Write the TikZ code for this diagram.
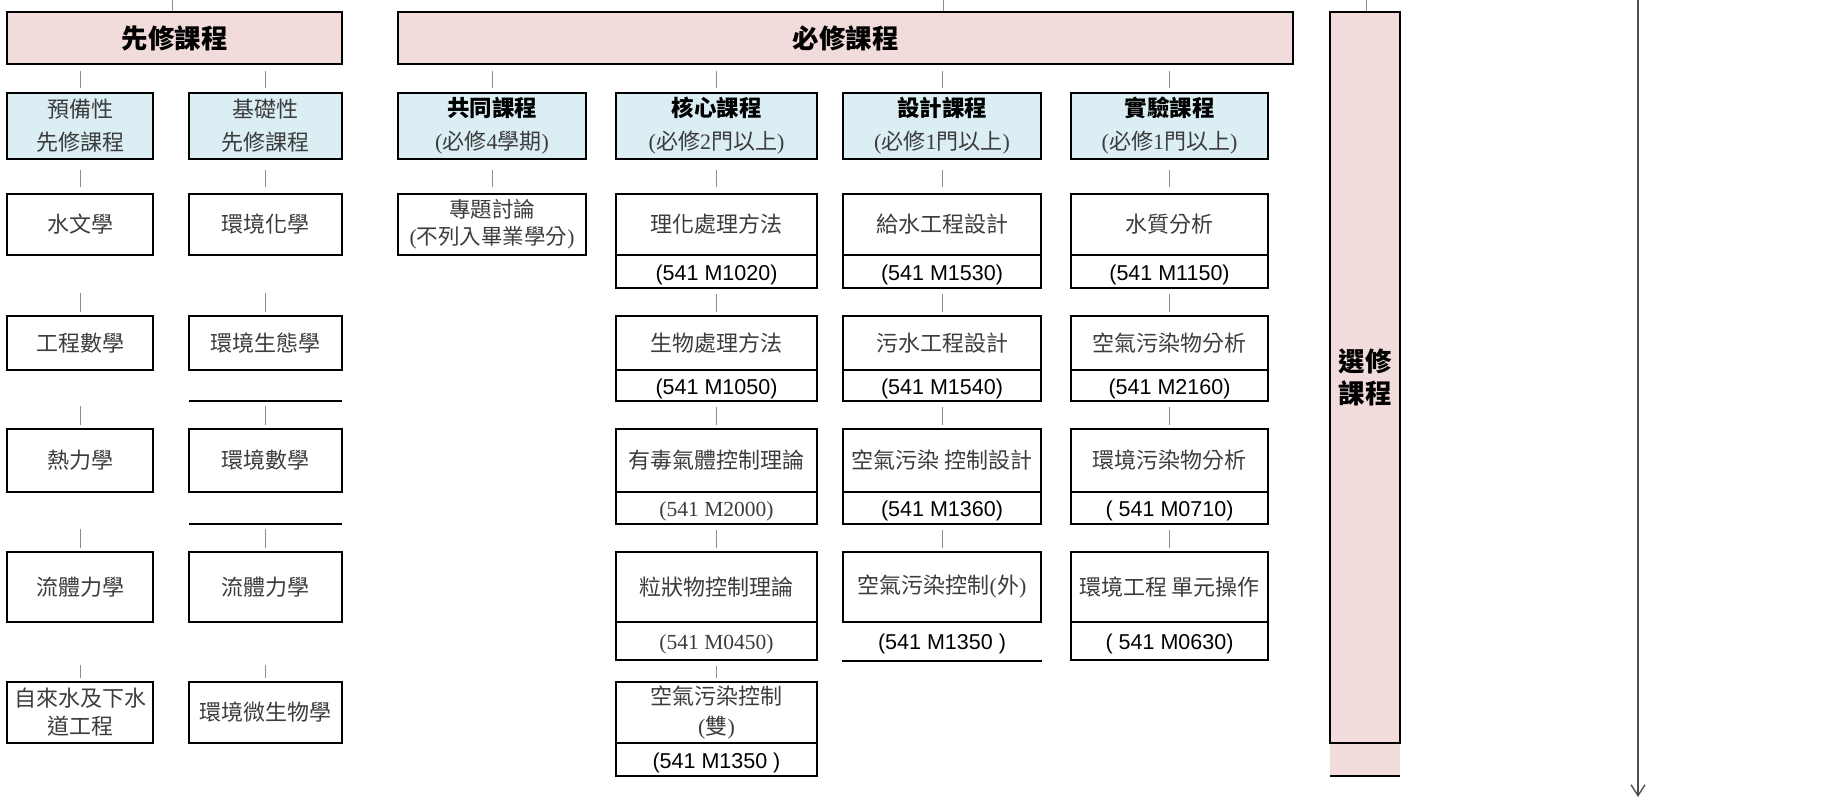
\documentclass[tikz,border=0pt]{standalone}
\usepackage{fontspec}
\setmainfont{Noto Sans CJK TC}
\newfontfamily\ari{Liberation Sans}
\newfontfamily\tnr{Liberation Serif}
\usetikzlibrary{arrows.meta}
\definecolor{pinkfill}{RGB}{242,220,219}
\definecolor{bluefill}{RGB}{218,238,243}
\definecolor{txtgray}{RGB}{60,60,60}
\definecolor{conngray}{RGB}{140,140,140}
\definecolor{arrgray}{RGB}{80,80,80}
\newcommand\cellbox[7]{\node[#6, minimum width={#4pt-#2pt}, minimum height={#5pt-#3pt}] (#1) at ({(#2+#4)/2},{(#3+#5)/2}) {#7};}
\newcommand\subbold[1]{{\fontsize{22.5}{33}\selectfont\bfseries #1}}
\tikzset{
  boxline/.style={line width=1.8pt, draw=black},
  hdr/.style={draw, line width=1.8pt, fill=pinkfill, inner sep=0pt, align=center, font=\bfseries\fontsize{26.5}{32}\selectfont},
  sub/.style={draw, line width=1.8pt, fill=bluefill, inner sep=0pt, align=center, font=\fontsize{22}{33}\selectfont},
  course/.style={draw, line width=1.8pt, inner sep=0pt, align=center, font=\fontsize{22}{28}\selectfont, text=txtgray},
  code/.style={draw, line width=1.8pt, inner sep=0pt, text height=21pt, text depth=3.5pt, font=\ari\fontsize{21.5}{25}\selectfont},
  codeT/.style={code, font=\tnr\fontsize{21.5}{25}\selectfont, text=txtgray},
  blank/.style={inner sep=0pt},
  conn/.style={draw=conngray, line width=1pt},
  rowconn/.style={conn, shorten <=5pt, shorten >=3pt},
}
\begin{document}
\begin{tikzpicture}[x=1pt,y=-1pt]
\useasboundingbox (0,0) rectangle (1823,799);

% headers
\cellbox{pre}{7}{12}{342}{64}{hdr}{先修課程}
\cellbox{req}{398}{12}{1293}{64}{hdr}{必修課程}
\cellbox{Gx}{1330}{743}{1400}{776}{blank, fill=pinkfill}{}
\draw[boxline] (Gx.south west) -- (Gx.south east);
\cellbox{ele}{1330}{12}{1400}{743}{hdr}{選修\\課程}

% sub headers
\cellbox{pA}{7}{93}{153}{159}{sub, text=txtgray}{預備性\\先修課程}
\cellbox{pB}{189}{93}{342}{159}{sub, text=txtgray}{基礎性\\先修課程}
\cellbox{sC}{398}{93}{586}{159}{sub}{\subbold{共同課程}\\{\color{txtgray}{\tnr(}必修{\tnr 4}學期{\tnr)}}}
\cellbox{sD}{616}{93}{817}{159}{sub}{\subbold{核心課程}\\{\color{txtgray}{\tnr(}必修{\tnr 2}門以上{\tnr)}}}
\cellbox{sE}{843}{93}{1041}{159}{sub}{\subbold{設計課程}\\{\color{txtgray}{\tnr(}必修{\tnr 1}門以上{\tnr)}}}
\cellbox{sF}{1071}{93}{1268}{159}{sub}{\subbold{實驗課程}\\{\color{txtgray}{\tnr(}必修{\tnr 1}門以上{\tnr)}}}

% column A
\cellbox{A1}{7}{194}{153}{255}{course}{水文學}
\cellbox{A1c}{7}{255}{153}{288}{blank}{}
\cellbox{A2}{7}{316}{153}{370}{course}{工程數學}
\cellbox{A2c}{7}{370}{153}{401}{blank}{}
\cellbox{A3}{7}{429}{153}{492}{course}{熱力學}
\cellbox{A3c}{7}{492}{153}{524}{blank}{}
\cellbox{A4}{7}{552}{153}{622}{course}{流體力學}
\cellbox{A4c}{7}{622}{153}{660}{blank}{}
\cellbox{A5}{7}{682}{153}{743}{course}{自來水及下水\\道工程}

% column B
\cellbox{B1}{189}{194}{342}{255}{course}{環境化學}
\cellbox{B1c}{189}{255}{342}{288}{blank}{}
\cellbox{B2}{189}{316}{342}{370}{course}{環境生態學}
\cellbox{B2c}{189}{370}{342}{401}{blank}{}
\draw[boxline] (B2c.south west) -- (B2c.south east);
\cellbox{B3}{189}{429}{342}{492}{course}{環境數學}
\cellbox{B3c}{189}{492}{342}{524}{blank}{}
\draw[boxline] (B3c.south west) -- (B3c.south east);
\cellbox{B4}{189}{552}{342}{622}{course}{流體力學}
\cellbox{B4c}{189}{622}{342}{660}{blank}{}
\cellbox{B5}{189}{682}{342}{743}{course}{環境微生物學}

% column C
\cellbox{C1}{398}{194}{586}{255}{course, font=\fontsize{21.5}{27}\selectfont}{專題討論\\{\tnr(}不列入畢業學分{\tnr)}}

% column D
\cellbox{D1}{616}{194}{817}{255}{course}{理化處理方法}
\cellbox{D1c}{616}{255}{817}{288}{code}{(541 M1020)}
\cellbox{D2}{616}{316}{817}{370}{course}{生物處理方法}
\cellbox{D2c}{616}{370}{817}{401}{code}{(541 M1050)}
\cellbox{D3}{616}{429}{817}{492}{course}{有毒氣體控制理論}
\cellbox{D3c}{616}{492}{817}{524}{codeT}{(541 M2000)}
\cellbox{D4}{616}{552}{817}{622}{course}{粒狀物控制理論}
\cellbox{D4c}{616}{622}{817}{660}{codeT}{(541 M0450)}
\cellbox{D5}{616}{682}{817}{743}{course, font=\fontsize{22}{30}\selectfont}{空氣污染控制\\{\tnr(}雙{\tnr)}}
\cellbox{D5c}{616}{743}{817}{776}{code}{(541 M1350 )}

% column E
\cellbox{E1}{843}{194}{1041}{255}{course}{給水工程設計}
\cellbox{E1c}{843}{255}{1041}{288}{code}{(541 M1530)}
\cellbox{E2}{843}{316}{1041}{370}{course}{污水工程設計}
\cellbox{E2c}{843}{370}{1041}{401}{code}{(541 M1540)}
\cellbox{E3}{843}{429}{1041}{492}{course}{空氣污染 控制設計}
\cellbox{E3c}{843}{492}{1041}{524}{code}{(541 M1360)}
\cellbox{E4}{843}{552}{1041}{622}{course}{空氣污染控制{\tnr(}外{\tnr)}}
\cellbox{E4c}{843}{622}{1041}{660}{code, draw=none}{(541 M1350 )}
\draw[boxline] (E4c.south west) -- (E4c.south east);

% column F
\cellbox{F1}{1071}{194}{1268}{255}{course}{水質分析}
\cellbox{F1c}{1071}{255}{1268}{288}{code}{(541 M1150)}
\cellbox{F2}{1071}{316}{1268}{370}{course}{空氣污染物分析}
\cellbox{F2c}{1071}{370}{1268}{401}{code}{(541 M2160)}
\cellbox{F3}{1071}{429}{1268}{492}{course}{環境污染物分析}
\cellbox{F3c}{1071}{492}{1268}{524}{code}{( 541 M0710)}
\cellbox{F4}{1071}{552}{1268}{622}{course}{環境工程 單元操作}
\cellbox{F4c}{1071}{622}{1268}{660}{code}{( 541 M0630)}

% top connectors
\coordinate (t1) at (172,0);
\coordinate (t2) at (943,0);
\coordinate (t3) at (1366,0);
\draw[conn] (t1) -- (pre.north -| t1);
\draw[conn] (t2) -- (req.north -| t2);
\draw[conn] (t3) -- (ele.north -| t3);

% header to sub headers
\foreach \h/\s in {pre/pA, pre/pB, req/sC, req/sD, req/sE, req/sF}
  \draw[conn, shorten <=6pt, shorten >=4pt] (\h.south -| \s.north) -- (\s.north);

% sub headers to first row
\foreach \s/\r in {pA/A1, pB/B1, sC/C1, sD/D1, sE/E1, sF/F1}
  \draw[conn, shorten <=10pt, shorten >=6pt] (\s.south) -- (\r.north);

% rows
\foreach \a/\b in {A1c/A2, A2c/A3, A3c/A4, A4c/A5,
                   B1c/B2, B2c/B3, B3c/B4, B4c/B5,
                   D1c/D2, D2c/D3, D3c/D4, D4c/D5,
                   E1c/E2, E2c/E3, E3c/E4,
                   F1c/F2, F2c/F3, F3c/F4}
  \draw[rowconn] (\a.south) -- (\b.north);

% long arrow
\coordinate (arrS) at (1638,0);
\coordinate (arrE) at (1638,797);
\draw[draw=arrgray, line width=1.4pt, -{Straight Barb[length=11pt, width=14pt]}] (arrS) -- (arrE);
\end{tikzpicture}
\end{document}
